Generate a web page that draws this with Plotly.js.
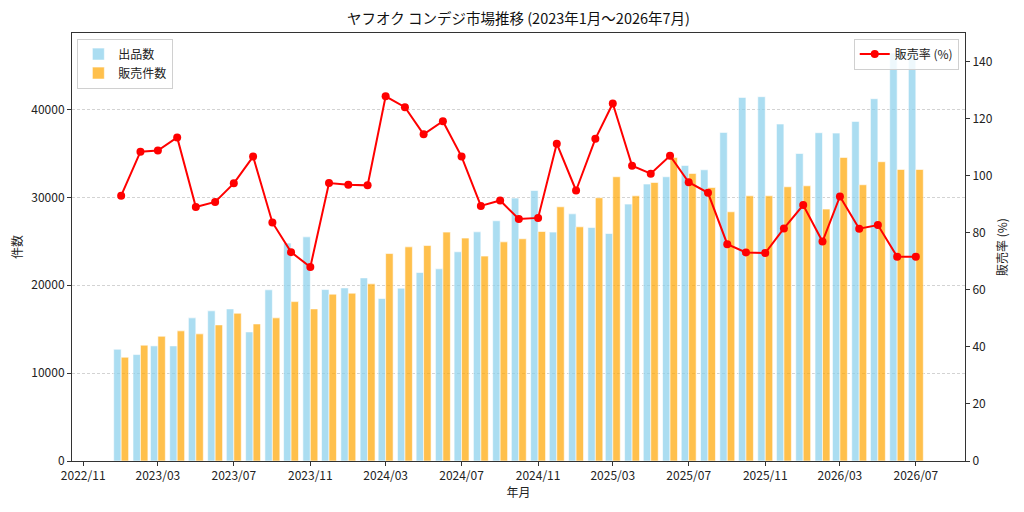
<!DOCTYPE html>
<html>
<head>
<meta charset="utf-8">
<script src="https://cdn.plot.ly/plotly-3.0.1.min.js"></script>
<style>
  html, body { margin: 0; padding: 0; background: #fff; }
  #chart { width: 1024px; height: 512px; }
</style>
</head>
<body>
<div id="chart"></div>
<script>
// months (first of month)
var months = [
  '2023-01', '2023-02', '2023-03', '2023-04', '2023-05', '2023-06', '2023-07', '2023-08', '2023-09', '2023-10', '2023-11', '2023-12',
  '2024-01', '2024-02', '2024-03', '2024-04', '2024-05', '2024-06', '2024-07', '2024-08', '2024-09', '2024-10', '2024-11', '2024-12',
  '2025-01', '2025-02', '2025-03', '2025-04', '2025-05', '2025-06', '2025-07', '2025-08', '2025-09', '2025-10', '2025-11', '2025-12',
  '2026-01', '2026-02', '2026-03', '2026-04', '2026-05', '2026-06', '2026-07'
];
var listings = [
  12720, 12110, 13100, 13100, 16290, 17090, 17310, 14690, 19480, 24800,
  25510, 19510, 19700, 20840, 18490, 19670, 21450, 21870, 23810, 26080,
  27340, 29920, 30790, 26050, 28130, 26570, 25890, 29240, 31520, 32350,
  33640, 33140, 37400, 41380, 41460, 38350, 35000, 37360, 37320, 38650,
  41230, 46440, 46440
];
var sold = [
  11810, 13180, 14200, 14810, 14470, 15490, 16820, 15600, 16290, 18140,
  17310, 18990, 19100, 20160, 23610, 24370, 24520, 26050, 25370, 23320,
  24940, 25290, 26120, 28930, 26650, 29960, 32350, 30180, 31700, 34550,
  32730, 31130, 28360, 30180, 30180, 31210, 31320, 28670, 34550, 31440,
  34060, 33180, 33180
];
var sellRate = [
  93.0, 108.4, 108.8, 113.4, 89.0, 90.8, 97.3, 106.7, 83.6, 73.2,
  68.0, 97.4, 96.8, 96.6, 127.8, 124.0, 114.5, 119.1, 106.7, 89.4,
  91.3, 84.8, 85.2, 111.2, 94.8, 112.9, 125.3, 103.5, 100.7, 107.0,
  97.7, 94.0, 76.0, 73.1, 72.9, 81.5, 89.7, 76.9, 92.7, 81.4,
  82.7, 71.6, 71.6
];

var DAY = 86400000;
var FONT = '"Noto Sans CJK JP", "Noto Sans", sans-serif';

var data = [
  {
    type: 'bar',
    name: '出品数',
    x: months,
    y: listings,
    width: 12 * DAY,
    offset: -12 * DAY,
    marker: { color: 'rgba(135, 206, 235, 0.7)', line: { color: '#ffffff', width: 0.6 } },
    legend: 'legend',
    hoverinfo: 'x+y+name'
  },
  {
    type: 'bar',
    name: '販売件数',
    x: months,
    y: sold,
    width: 12 * DAY,
    offset: 0,
    marker: { color: 'rgba(255, 165, 0, 0.7)', line: { color: '#ffffff', width: 0.6 } },
    legend: 'legend',
    hoverinfo: 'x+y+name'
  },
  {
    type: 'scatter',
    mode: 'lines+markers',
    name: '販売率 (%)',
    x: months,
    y: sellRate,
    yaxis: 'y2',
    line: { color: 'red', width: 2 },
    marker: { color: 'red', size: 8 },
    legend: 'legend2'
  }
];

var layout = {
  width: 1024,
  height: 512,
  margin: { l: 72, r: 59, t: 33, b: 51 },
  paper_bgcolor: '#ffffff',
  plot_bgcolor: '#ffffff',
  font: { family: FONT, size: 12, color: '#222' },
  barmode: 'overlay',
  title: {
    text: 'ヤフオク コンデジ市場推移 (2023年1月～2026年7月)',
    font: { family: FONT, size: 14.5, color: '#111' },
    x: 0.5, xref: 'paper', xanchor: 'center',
    y: 1 - 19 / 512, yref: 'container', yanchor: 'middle'
  },
  xaxis: {
    type: 'date',
    range: ['2022-10-14', '2026-09-18'],
    tick0: '2022-11-01',
    dtick: 'M4',
    tickformat: '%Y/%m',
    ticks: 'outside',
    ticklen: 4,
    tickcolor: '#333',
    showgrid: false,
    zeroline: false,
    showline: true,
    mirror: true,
    linecolor: '#333',
    linewidth: 1,
    tickfont: { size: 12 },
    title: { text: '年月', font: { size: 12 }, standoff: 4 }
  },
  yaxis: {
    range: [0, 48710],
    dtick: 10000,
    tickformat: 'd',
    ticks: 'outside',
    ticklen: 4,
    tickcolor: '#333',
    showgrid: true,
    gridcolor: 'rgba(176, 176, 176, 0.7)',
    griddash: '3px,2px',
    gridwidth: 0.8,
    zeroline: false,
    showline: true,
    mirror: true,
    linecolor: '#333',
    linewidth: 1,
    tickfont: { size: 12 },
    title: { text: '件数', font: { size: 12 }, standoff: 6 }
  },
  yaxis2: {
    overlaying: 'y',
    side: 'right',
    range: [0, 150],
    dtick: 20,
    ticks: 'outside',
    ticklen: 4,
    tickcolor: '#333',
    showgrid: false,
    zeroline: false,
    showline: true,
    linecolor: '#333',
    linewidth: 1,
    tickfont: { size: 12 },
    title: { text: '販売率 (%)', font: { size: 12 }, standoff: 6 }
  },
  legend: {
    x: 0.006, y: 0.987, xanchor: 'left', yanchor: 'top',
    bgcolor: 'rgba(255,255,255,0.8)',
    bordercolor: '#d0d0d0',
    borderwidth: 1,
    font: { size: 12 },
    tracegroupgap: 2
  },
  legend2: {
    x: 0.993, y: 0.987, xanchor: 'right', yanchor: 'top',
    bgcolor: 'rgba(255,255,255,0.8)',
    bordercolor: '#d0d0d0',
    borderwidth: 1,
    font: { size: 12 }
  }
};

Plotly.newPlot('chart', data, layout, { displayModeBar: false, staticPlot: true });
</script>
</body>
</html>
